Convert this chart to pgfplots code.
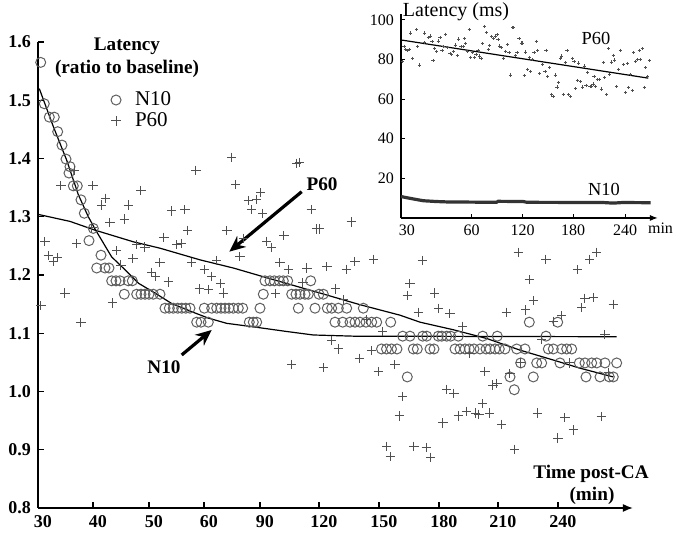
\documentclass[border=0pt]{standalone}
\usepackage{fontspec}
\setmainfont{Liberation Serif}
\usepackage{pgfplots}
\pgfplotsset{compat=1.18}
\usepackage{pgfplotstable}
\usetikzlibrary{arrows.meta}
\definecolor{ptgray}{RGB}{80,80,80}
\definecolor{cgray}{RGB}{95,95,95}

% N10 (ratio to baseline); x = position along time axis
\pgfplotstableread{
x y
40.7 1.565
44.3 1.494
49.3 1.471
54.3 1.471
57.7 1.446
62 1.423
66 1.399
70 1.386
69 1.375
73.3 1.353
77.3 1.353
81 1.329
84.3 1.306
93.3 1.280
89 1.259
101 1.234
96.7 1.212
105 1.212
109 1.212
111.7 1.190
116 1.190
120 1.190
128.3 1.190
132.3 1.190
124.3 1.167
136.7 1.167
141 1.167
145 1.167
149 1.167
153.3 1.167
160 1.167
165 1.143
169.3 1.143
173.3 1.143
177.7 1.143
181.7 1.143
185.7 1.143
190 1.143
196.7 1.119
201 1.119
208.3 1.119
204.3 1.143
211.7 1.143
216.7 1.143
221 1.143
225 1.143
229 1.143
233.3 1.143
238.3 1.143
242.7 1.143
249.3 1.119
253.3 1.119
256.7 1.119
260 1.143
263.3 1.167
265 1.190
270 1.190
274.3 1.190
279.3 1.190
283.3 1.190
287.7 1.190
291.7 1.167
296 1.167
300 1.167
305 1.167
308.3 1.167
298.3 1.143
310.7 1.190
315 1.143
319 1.167
323.3 1.167
327.3 1.143
331.7 1.143
338.3 1.143
346.7 1.143
335 1.119
342.7 1.119
350 1.119
355 1.119
360 1.119
366 1.119
371.7 1.119
376.7 1.119
363.3 1.143
381.5 1.073
386.5 1.073
391.5 1.073
397 1.073
390.7 1.119
402.7 1.095
410 1.095
407.3 1.025
413.3 1.073
417.3 1.073
422.7 1.095
426.7 1.095
430 1.073
434 1.073
438.3 1.095
441.7 1.095
446.7 1.095
450.7 1.095
458.3 1.095
455 1.073
460 1.073
465 1.073
469.3 1.073
474 1.073
480 1.073
486 1.073
490 1.073
495 1.073
499.3 1.073
505 1.073
482.7 1.095
497.3 1.095
510 1.025
514.3 1.003
516.7 1.073
520.7 1.049
525 1.073
529.3 1.119
533.3 1.025
536.7 1.049
541.7 1.049
546 1.095
548.3 1.073
553.3 1.073
557.7 1.119
560 1.049
561.7 1.073
566.7 1.073
571.7 1.073
579.3 1.049
585 1.049
591.7 1.049
596.7 1.049
605 1.049
616.7 1.049
586 1.025
600 1.025
609.3 1.025
613.3 1.025
}\ntencirc

% P60 (ratio to baseline) and P60 latency (ms)
\pgfplotstableread{
x y ms
41 1.147 79.1
45 1.257 86.7
48.3 1.233 85.1
53.3 1.223 84.4
57.5 1.230 84.9
61 1.353 93.4
65 1.169 80.7
74.3 1.380 95.2
76.7 1.254 86.5
81 1.119 77.2
92 1.281 88.4
93 1.353 93.4
101.5 1.320 91.1
105.5 1.332 91.9
110 1.290 89.0
112.5 1.152 79.5
116.5 1.242 85.7
121 1.217 84.0
124.3 1.296 89.4
128.3 1.320 91.1
133 1.228 84.7
141 1.345 92.8
136.7 1.252 86.4
145 1.248 86.1
151.7 1.204 83.1
155.7 1.198 82.7
160 1.221 84.2
164 1.265 87.3
168.3 1.188 82.0
171.7 1.310 90.4
177 1.252 86.4
181.7 1.254 86.5
185 1.312 90.5
187.7 1.277 88.1
191.7 1.221 84.2
196 1.380 95.2
199.3 1.176 81.1
204.2 1.209 83.4
208.3 1.175 81.1
211.7 1.198 82.7
216.5 1.225 84.5
220.5 1.186 81.8
223.3 1.169 80.7
227 1.276 88.0
231.7 1.402 96.7
235.7 1.355 93.5
240 1.232 85.0
243.3 1.263 87.1
248.3 1.328 91.6
251.7 1.312 90.5
256.5 1.329 91.7
260.7 1.341 92.5
262.7 1.306 90.1
266.7 1.258 86.8
271.7 1.247 86.0
275.5 1.168 80.6
280 1.221 84.2
284 1.268 87.5
288.3 1.209 83.4
291.7 1.047 72.2
296.7 1.392 96.0
299.3 1.393 96.1
303 1.187 81.9
307 1.212 83.6
311.3 1.312 90.5
316.7 1.279 88.3
319.3 1.279 88.3
323.3 1.041 71.8
327 1.214 83.8
331.7 1.088 75.1
335.5 1.176 81.1
338.3 1.073 74.0
343.3 1.158 79.9
346.3 1.210 83.5
351.2 1.291 89.1
355 1.223 84.4
359.3 1.057 72.9
366.7 1.123 77.5
371.7 1.070 73.8
373.7 1.227 84.7
378.3 1.034 71.3
382.7 1.103 76.1
386.7 0.906 62.5
390.3 0.888 61.3
395 1.046 72.2
399.2 0.958 66.1
402.7 0.992 68.4
407.3 1.165 80.4
410 1.185 81.8
414 0.906 62.5
418.3 1.136 78.4
422.5 1.225 84.5
426.3 0.904 62.4
430.7 0.887 61.2
434.7 1.169 80.7
438.8 1.143 78.9
443 0.946 65.3
446.7 1.004 69.3
450 1.134 78.2
454 0.997 68.8
458.3 0.958 66.1
462.7 1.112 76.7
466.3 0.966 66.7
470 1.066 73.6
475.8 0.963 66.4
479 0.961 66.3
482.7 0.979 67.6
485 1.035 71.4
489.3 0.963 66.4
493 1.011 69.8
497 1.014 70.0
501.7 0.944 65.1
506.3 1.136 78.4
510 1.031 71.1
514.5 0.901 62.2
518.3 1.239 85.5
520.7 1.049 72.4
525.5 1.140 78.7
529.3 1.192 82.2
533.3 1.156 79.8
537.3 0.963 66.4
541.7 1.089 75.1
546 1.227 84.7
553.8 1.120 77.3
558 0.920 63.5
561.7 1.130 78.0
565 0.955 65.9
569.3 1.049 72.4
573.3 0.934 64.4
577.3 1.209 83.4
581.7 1.144 78.9
585 1.160 80.0
589.7 1.227 84.7
593.3 1.161 80.1
596.7 1.239 85.5
601.2 0.957 66.0
605 1.098 75.8
608.8 1.033 71.3
613.3 1.150 79.4
}\psixty

\pgfplotstableread{
x y
39.3 1.520
53.3 1.455
66.7 1.397
78.3 1.338
88.3 1.300
96 1.276
111.7 1.231
125 1.209
138.3 1.186
155 1.169
171.7 1.151
191.7 1.137
208.3 1.126
226.7 1.117
253.3 1.111
286.7 1.103
313.3 1.097
353.3 1.095
616.7 1.094
}\ntenfit

\pgfplotstableread{
x y
38.3 1.304
70 1.292
95 1.277
133.3 1.257
160 1.246
200 1.226
233.3 1.212
263.3 1.197
320 1.169
360 1.149
400 1.131
420 1.119
453.3 1.106
486.7 1.091
520 1.071
553.3 1.054
580 1.040
613.3 1.025
}\psixtyfit

\pgfplotstableread{
x y
37.5 89.9
610.7 70.6
}\psixtymsfit

\pgfplotstableread{
x y
38.5 10.8
50 10.3
66.7 9.6
89.8 8.7
120 8.3
144 8.1
259 7.9
263 8.4
321 8.3
330 7.9
506 7.8
529 7.5
552 7.8
616 7.7
}\ntenms

\begin{document}
\begin{tikzpicture}
\begin{axis}[
  scale only axis, width=297.5pt, height=233pt,
  xmin=38, xmax=633, ymin=0.8, ymax=1.6,
  clip=false,
  axis lines=left,
  axis line style={line width=0.8pt, black},
  x axis line style={-{Latex[length=5pt,width=4pt]}},
  y axis line style={-},
  tick align=inside,
  major tick length=3pt,
  tick style={line width=0.6pt, black},
  xtick={38,93,149,204,260,319,379,439,498,558},
  xticklabels={30,40,50,60,90,120,150,180,210,240},
  ytick={0.8,0.9,1.0,1.1,1.2,1.3,1.4,1.5,1.6},
  yticklabels={0.8,0.9,1.0,1.1,1.2,1.3,1.4,1.5,1.6},
  ticklabel style={font=\bfseries\fontsize{9}{10}\selectfont},
  xticklabel style={xshift=2.5pt},
  legend cell align=left,
  legend style={at={(0.112,0.853)}, anchor=west, draw=none, fill=none,
    font=\fontsize{10.5}{11}\selectfont, row sep=-2pt,
    /tikz/every odd column/.append style={column sep=5pt}},
]
\addplot[only marks, color=cgray, mark=o, mark size=2.5pt, line width=0.5pt] table[x=x,y=y] {\ntencirc};
\addplot[only marks, color=ptgray, mark=+, mark size=2.3pt, line width=0.5pt] table[x=x,y=y] {\psixty};
\legend{N10,P60}
\addplot[black, line width=0.6pt, forget plot] table {\ntenfit};
\addplot[black, line width=0.6pt, forget plot] table {\psixtyfit};

\node[font=\bfseries\fontsize{9.6}{10}\selectfont] at (axis cs:127,1.5920) {Latency};
\node[font=\bfseries\fontsize{9.6}{10}\selectfont] at (axis cs:127,1.5540) {(ratio to baseline)};
\node[font=\bfseries\fontsize{9.6}{10}\selectfont] at (axis cs:322,1.3562) {P60};
\draw[line width=1.6pt, -{Stealth[length=8pt,width=7pt]}] (axis cs:301.7,1.343) -- (axis cs:229.3,1.240);
\node[font=\bfseries\fontsize{9.6}{10}\selectfont] at (axis cs:164,1.0421) {N10};
\draw[line width=1.6pt, -{Stealth[length=8pt,width=7pt]}] (axis cs:181.7,1.0627) -- (axis cs:211.7,1.1056);
\node[font=\bfseries\fontsize{9.6}{10}\selectfont] at (axis cs:591,0.8584) {Time post-CA};
\node[font=\bfseries\fontsize{9.6}{10}\selectfont] at (axis cs:592,0.8206) {(min)};

\node[font=\fontsize{10}{11}\selectfont] at (axis cs:456,1.6515) {Latency (ms)};
\node[font=\fontsize{9.2}{10}\selectfont] at (axis cs:596,1.606) {P60};
\node[font=\fontsize{9.2}{10}\selectfont] at (axis cs:604,1.3468) {N10};
\node[font=\fontsize{8}{9}\selectfont] at (axis cs:660.5,1.2807) {min};

\coordinate (insetSW) at (axis cs:400.9,1.2979);
\coordinate (BL) at (axis cs:0,0.7485);
\coordinate (TR) at (axis cs:682,1.6721);
\end{axis}

\begin{axis}[
  at={(insetSW)}, anchor=south west,
  scale only axis, width=128.5pt, height=102pt,
  xmin=38, xmax=633, ymin=0, ymax=103,
  clip=false,
  axis lines=left,
  axis line style={line width=0.6pt, black},
  x axis line style={-{Latex[length=4pt,width=3pt]}},
  y axis line style={-},
  tick align=inside,
  major tick length=2pt,
  tick style={line width=0.5pt, black},
  xtick={202,320,437,557},
  xticklabels={60,120,180,240},
  extra x ticks={52}, extra x tick labels={30},
  extra x tick style={major tick length=0pt},
  ytick={20,40,60,80,100},
  yticklabels={20,40,60,80,100},
  ticklabel style={font=\fontsize{8}{9}\selectfont},
]
\addplot[only marks, color=ptgray, mark=+, mark size=0.8pt, line width=0.4pt] table[x=x,y=ms] {\psixty};
\addplot[black, line width=0.6pt] table {\psixtymsfit};
\addplot[black!80, line width=1.6pt] table {\ntenms};
\end{axis}
\pgfresetboundingbox
\useasboundingbox (BL) rectangle (TR);
\end{tikzpicture}
\end{document}
